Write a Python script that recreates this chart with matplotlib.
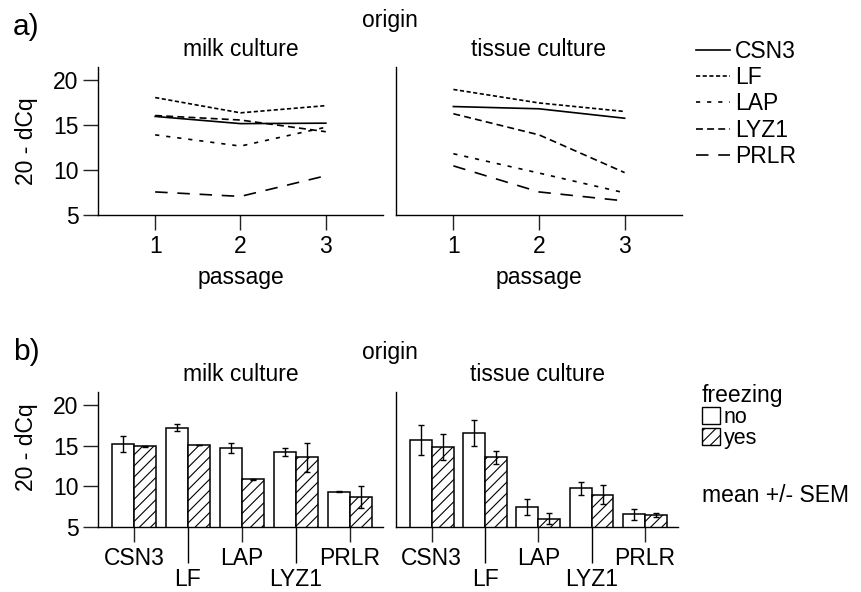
import numpy as np
import matplotlib
matplotlib.use('Agg')
import matplotlib.pyplot as plt
from matplotlib.patches import Patch

plt.rcParams['font.family'] = ['Liberation Sans', 'DejaVu Sans']
plt.rcParams['font.size'] = 16.5
plt.rcParams['lines.scale_dashes'] = False
plt.rcParams['hatch.linewidth'] = 0.8
plt.rcParams['axes.linewidth'] = 1.0

genes = ['CSN3', 'LF', 'LAP', 'LYZ1', 'PRLR']
passage = [1, 2, 3]

# 20 - dCq per passage, one row per gene (same order as genes)
milk_passage = [
    [16.0, 15.2, 15.25],
    [18.1, 16.4, 17.2],
    [13.95, 12.7, 14.8],
    [16.1, 15.6, 14.3],
    [7.6, 7.1, 9.4],
]
tissue_passage = [
    [17.1, 16.85, 15.8],
    [19.0, 17.5, 16.55],
    [11.85, 9.7, 7.5],
    [16.3, 13.95, 9.75],
    [10.5, 7.6, 6.6],
]

# freezing comparison, mean and SEM
milk_no = [15.2, 17.2, 14.75, 14.2, 9.35]
milk_no_sem = [1.0, 0.4, 0.6, 0.5, 0.05]
milk_yes = [14.9, 15.1, 10.9, 13.55, 8.75]
milk_yes_sem = [0.1, 0.0, 0.05, 1.75, 1.35]
tissue_no = [15.7, 16.5, 7.5, 9.75, 6.6]
tissue_no_sem = [1.8, 1.6, 1.0, 0.75, 0.65]
tissue_yes = [14.8, 13.55, 6.05, 9.0, 6.5]
tissue_yes_sem = [1.6, 0.8, 0.65, 1.15, 0.25]

styles = ['-', (0, (3, 1.8)), (0, (3, 5)), (0, (5, 3)), (0, (9, 7))]

W, H = 862, 592
fig = plt.figure(figsize=(W / 100, H / 100), dpi=100)


def add_ax(x0, x1, ytop, ybot):
    return fig.add_axes([x0 / W, 1 - ybot / H, (x1 - x0) / W, (ybot - ytop) / H])


def style_ax(ax, left):
    for s in ['top', 'right']:
        ax.spines[s].set_visible(False)
    ax.tick_params(direction='out', length=11, width=1, pad=3, color='#222222')
    if not left:
        ax.tick_params(axis='y', left=False, labelleft=False)
    else:
        ax.set_yticks([5, 10, 15, 20])


# a) expression over passages
axA1 = add_ax(98, 383, 67, 215.3)
axA2 = add_ax(396, 682, 67, 215.3)
for ax, data, title, left in [(axA1, milk_passage, 'milk culture', True),
                              (axA2, tissue_passage, 'tissue culture', False)]:
    for g, vals, ls in zip(genes, data, styles):
        ax.plot(passage, vals, color='black', lw=1.2, linestyle=ls, label=g)
    ax.set_xlim(0.33, 3.67)
    ax.set_ylim(5, 21.5)
    ax.set_xticks(passage)
    ax.set_xlabel('passage', labelpad=6)
    ax.set_title(title, pad=8, fontsize=16.5)
    style_ax(ax, left)

fig.legend(*axA1.get_legend_handles_labels(), loc='upper left',
           bbox_to_anchor=(696 / W, 1 - 40 / H), frameon=False,
           handlelength=1.48, handletextpad=0.22, labelspacing=0.14,
           borderpad=0, borderaxespad=0)

# b) freezing, mean +/- SEM
axB1 = add_ax(98, 383, 391.7, 527.3)
axB2 = add_ax(396, 678, 391.7, 527.3)
x = np.arange(len(genes))
bw = 0.41
for ax, no, no_e, yes, yes_e, title, left in [
        (axB1, milk_no, milk_no_sem, milk_yes, milk_yes_sem, 'milk culture', True),
        (axB2, tissue_no, tissue_no_sem, tissue_yes, tissue_yes_sem, 'tissue culture', False)]:
    ax.bar(x - bw / 2, no, bw, color='white', edgecolor='black', lw=1.1,
           yerr=no_e, capsize=2.5, error_kw=dict(elinewidth=1, capthick=1), label='no')
    ax.bar(x + bw / 2, yes, bw, color='white', edgecolor='black', lw=1.1, hatch='///',
           yerr=yes_e, capsize=2.5, error_kw=dict(elinewidth=1, capthick=1), label='yes')
    ax.set_xlim(-0.67, 4.62)
    ax.set_ylim(5, 21.6)
    ax.set_xticks(x[::2])
    ax.set_xticklabels(genes[::2])
    ax.set_xticks(x[1::2], minor=True)
    ax.set_xticklabels(genes[1::2], minor=True)
    ax.set_title(title, pad=7.5, fontsize=16.5)
    style_ax(ax, left)
    ax.tick_params(axis='x', which='minor', direction='out', length=26, width=1, pad=3)

fig.legend(handles=[Patch(facecolor='white', edgecolor='black', lw=1, label='no'),
                    Patch(facecolor='white', edgecolor='black', lw=1, hatch='///', label='yes')],
           title='freezing', loc='upper left', bbox_to_anchor=(702 / W, 1 - 384 / H),
           frameon=False, handlelength=0.85, handleheight=0.8, handletextpad=0.15,
           labelspacing=0.0, borderpad=0, borderaxespad=0, alignment='left',
           prop={'size': 15.5}, title_fontsize=16.5)
fig.text(702 / W, 1 - 495 / H, 'mean +/- SEM', ha='left', va='center')

# panel letters, headers, y labels
for letter, yl, yo, ylab in [('a)', 27, 21, 141), ('b)', 352, 352, 447)]:
    fig.text(13 / W, 1 - yl / H, letter, fontsize=21.5, ha='left', va='center')
    fig.text(390 / W, 1 - yo / H, 'origin', ha='center', va='center')
    fig.text(27 / W, 1 - ylab / H, '20 - dCq', rotation=90, ha='center', va='center')

fig.savefig('out.png', dpi=100)
